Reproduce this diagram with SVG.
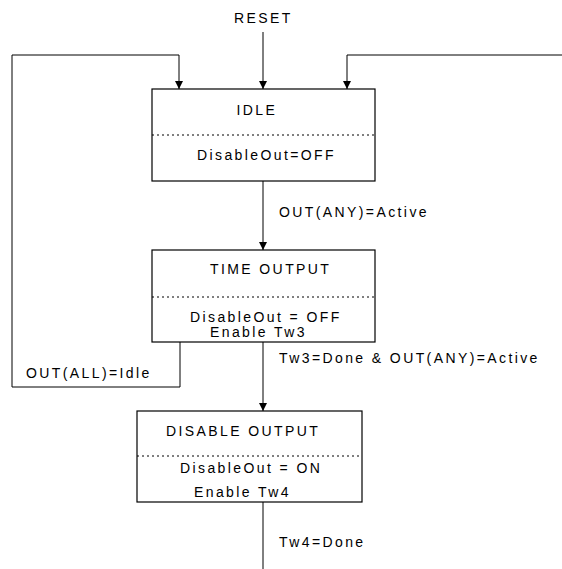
<svg xmlns="http://www.w3.org/2000/svg" width="562" height="569" viewBox="0 0 562 569">
<defs>
<marker id="ah" markerWidth="8" markerHeight="8" refX="8" refY="4" orient="auto" markerUnits="userSpaceOnUse">
<path d="M0,0 L8,4 L0,8 Z" fill="#000"/>
</marker>
<style>
text{font-family:"Liberation Sans",Arial,sans-serif;font-size:14px;letter-spacing:2.4px;fill:#000}
.box{fill:#fff;stroke:#000;stroke-width:1.2}
.sep{stroke:#000;stroke-width:1;stroke-dasharray:2 3}
.ln{fill:none;stroke:#000;stroke-width:1}
.arr{marker-end:url(#ah)}
</style>
</defs>
<rect width="562" height="569" fill="#fff"/>
<g id="connectors">
<path class="ln arr" d="M263,32 V89"/>
<path class="ln arr" d="M180,342 V387 H12 V55 H179 V89"/>
<path class="ln arr" d="M562,55 H347 V89"/>
<path class="ln arr" d="M263,181 V250"/>
<path class="ln arr" d="M263,342 V411"/>
<path class="ln" d="M263,502 V569"/>
<text x="234" y="23">RESET</text>
<text x="279" y="217">OUT(ANY)=Active</text>
<text x="279" y="363">Tw3=Done &amp; OUT(ANY)=Active</text>
<text x="26" y="378">OUT(ALL)=Idle</text>
<text x="279" y="547">Tw4=Done</text>
</g>
<g id="idle">
<rect class="box" x="152" y="89" width="223" height="92"/>
<line class="sep" x1="152" y1="135" x2="375" y2="135"/>
<text x="236.5" y="115">IDLE</text>
<text x="197" y="160">DisableOut=OFF</text>
</g>
<g id="time-output">
<rect class="box" x="152" y="250" width="223" height="92"/>
<line class="sep" x1="152" y1="297" x2="375" y2="297"/>
<text x="210" y="274">TIME OUTPUT</text>
<text x="190" y="322">DisableOut = OFF</text>
<text x="210" y="337">Enable Tw3</text>
</g>
<g id="disable-output">
<rect class="box" x="137" y="411" width="225" height="91"/>
<line class="sep" x1="137" y1="456" x2="362" y2="456"/>
<text x="166" y="436">DISABLE OUTPUT</text>
<text x="180" y="473">DisableOut = ON</text>
<text x="194" y="497">Enable Tw4</text>
</g>
</svg>
